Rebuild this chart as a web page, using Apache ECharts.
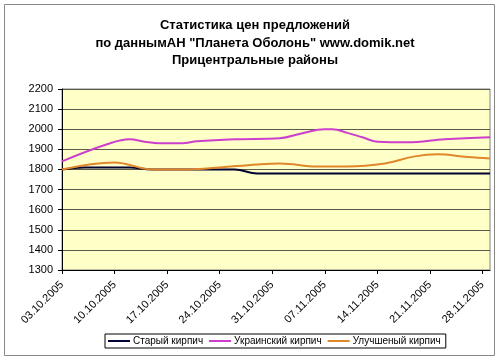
<!DOCTYPE html>
<html><head><meta charset="utf-8">
<script src="https://cdn.jsdelivr.net/npm/echarts@6/dist/echarts.min.js"></script>
<style>html,body{margin:0;padding:0;background:#fff}#c{width:500px;height:360px}</style>
</head><body><div id="c"></div>
<script>
const titleLines = ['Статистика цен предложений', 'по даннымАН "Планета Оболонь" www.domik.net', 'Прицентральные районы'];
const seriesNames = ['Старый кирпич', 'Украинский кирпич', 'Улучшеный кирпич'];
const startDate = '2005-10-03';
const endDate = '2005-11-29';
const tickDates = ['03.10.2005','10.10.2005','17.10.2005','24.10.2005','31.10.2005','07.11.2005','14.11.2005','21.11.2005','28.11.2005'];

const oldDates = ['2005-10-03','2005-10-06','2005-10-12','2005-10-15','2005-10-26','2005-10-29','2005-11-29'];
const oldValues = [1800,1810,1810,1800,1800,1780,1780];

const ukrDates = ['2005-10-03','2005-10-09','2005-10-12','2005-10-14','2005-10-16','2005-10-19','2005-10-21','2005-10-26','2005-11-01','2005-11-04','2005-11-07','2005-11-08','2005-11-10','2005-11-12','2005-11-14','2005-11-18','2005-11-23','2005-11-29'];
const ukrValues = [1840,1925,1950,1938,1930,1930,1940,1950,1955,1980,2000,2000,1982,1960,1938,1935,1950,1960];

const impDates = ['2005-10-03','2005-10-10','2005-10-15','2005-10-20','2005-10-24','2005-10-29','2005-11-01','2005-11-06','2005-11-10','2005-11-15','2005-11-19','2005-11-22','2005-11-26','2005-11-29'];
const impValues = [1800,1835,1800,1800,1810,1825,1830,1815,1815,1830,1865,1875,1862,1855];

const DAY = 86400000;
const t0 = Date.parse(startDate + 'T00:00:00Z');
const dayIdx = s => Math.round((Date.parse(s + 'T00:00:00Z') - t0) / DAY);
const pairs = (d, v) => d.map((s, i) => [dayIdx(s), v[i]]);
const maxDay = dayIdx(endDate);

const chart = echarts.init(document.getElementById('c'), null, {renderer: 'canvas'});
const colors = ['#000033', '#cc3fcc', '#e0872c'];
const FONT = 'Liberation Sans, Arial';
chart.setOption({
  animation: false,
  backgroundColor: '#fff',
  title: {
    text: titleLines.join('\n'),
    left: 250, top: 12, textAlign: 'center',
    textStyle: {fontFamily: FONT, fontSize: 13, fontWeight: 'bold', color: '#000', lineHeight: 17.5}
  },
  graphic: [
    {type: 'rect', shape: {x: 4.5, y: 4.5, width: 490, height: 351}, style: {fill: 'none', stroke: '#888', lineWidth: 1}, z: -1}
  ],
  legend: {
    left: 105, top: 334, width: 460,
    itemWidth: 22, itemHeight: 2, itemGap: 6, icon: 'rect',
    padding: [2, 5, 2, 3],
    borderColor: '#000', borderWidth: 1,
    textStyle: {fontFamily: FONT, fontSize: 10, color: '#000', padding: [0, 0, 0, -2]},
    data: seriesNames
  },
  grid: {left: 62, top: 89, right: 10, bottom: 90, show: true, backgroundColor: '#ffffc8', borderColor: '#808080', borderWidth: 1},
  xAxis: {
    type: 'value', min: 0, max: maxDay, interval: 7,
    axisLine: {show: true, lineStyle: {color: '#000'}},
    axisTick: {show: true, length: 4, lineStyle: {color: '#000'}},
    splitLine: {show: false},
    axisLabel: {
      rotate: 45, margin: 13, fontFamily: FONT, fontSize: 11, color: '#000',
      showMaxLabel: false,
      formatter: v => (v % 7 === 0 && tickDates[v / 7]) ? tickDates[v / 7] : ''
    }
  },
  yAxis: {
    type: 'value', min: 1300, max: 2200, interval: 100,
    axisLine: {show: true, lineStyle: {color: '#000'}},
    axisTick: {show: true, length: 4, lineStyle: {color: '#000'}},
    splitLine: {show: true, lineStyle: {color: '#5a5a4a', width: 1}},
    axisLabel: {margin: 9, fontFamily: FONT, fontSize: 11, color: '#000', formatter: v => String(v)}
  },
  series: [
    {name: seriesNames[0], type: 'line', data: pairs(oldDates, oldValues), smooth: 0.4, showSymbol: false, lineStyle: {width: 2, color: colors[0]}, itemStyle: {color: colors[0]}},
    {name: seriesNames[1], type: 'line', data: pairs(ukrDates, ukrValues), smooth: 0.4, showSymbol: false, lineStyle: {width: 2, color: colors[1]}, itemStyle: {color: colors[1]}},
    {name: seriesNames[2], type: 'line', data: pairs(impDates, impValues), smooth: 0.4, showSymbol: false, lineStyle: {width: 2, color: colors[2]}, itemStyle: {color: colors[2]}}
  ]
});
</script></body></html>
